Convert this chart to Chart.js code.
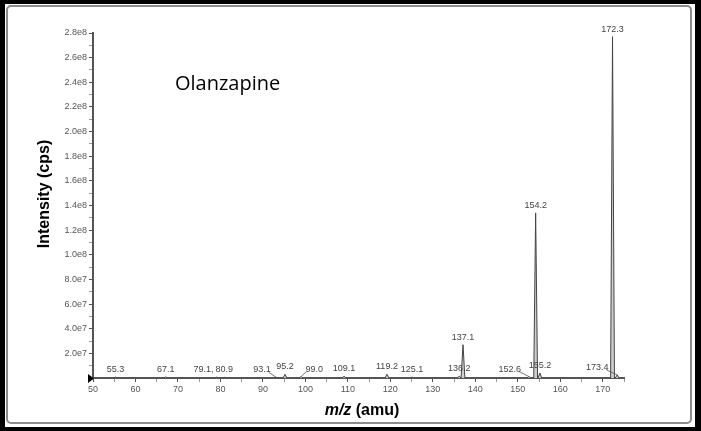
<!DOCTYPE html>
<html>
<head>
<meta charset="utf-8">
<script src="https://cdn.jsdelivr.net/npm/chart.js@4/dist/chart.umd.min.js"></script>
<style>
  html, body { margin: 0; padding: 0; background: #000; }
  #papel { position: absolute; left: 5px; top: 4px; width: 690px; height: 423px; background: #fff; }
  #borda { position: absolute; left: 6px; top: 5px; width: 686px; height: 419px; border: 2px solid #8c8c8c; border-radius: 5px; box-sizing: border-box; }
  #grafico { position: absolute; left: 0; top: 0; }
</style>
</head>
<body>
<div id="papel"></div>
<div id="borda"></div>
<canvas id="grafico" width="701" height="431"></canvas>
<script>
// espectro de massas - olanzapina
const picosMz = [55.3, 67.1, 79.1, 80.9, 93.1, 95.2, 99.0, 109.1, 119.2, 125.1, 136.2, 137.1, 152.6, 154.2, 155.2, 172.3, 173.4];
const picosIntensidade = [8e5, 9e5, 7e5, 6e5, 6e5, 3e6, 1.2e6, 1.5e6, 3e6, 8e5, 1.5e6, 2.7e7, 1.2e6, 1.34e8, 4e6, 2.77e8, 2.5e6];
const rotulosPicos = ['55.3', '67.1', '79.1,', '80.9', '93.1', '95.2', '99.0', '109.1', '119.2', '125.1', '136.2', '137.1', '152.6', '154.2', '155.2', '172.3', '173.4'];
const rotulosEixoX = ['50', '60', '70', '80', '90', '100', '110', '120', '130', '140', '150', '160', '170'];
const rotulosEixoY = ['2.0e7', '4.0e7', '6.0e7', '8.0e7', '1.0e8', '1.2e8', '1.4e8', '1.6e8', '1.8e8', '2.0e8', '2.2e8', '2.4e8', '2.6e8', '2.8e8'];
const nomeComposto = 'Olanzapine';

// deslocamento dos rotulos que o software afasta do pico (px)
const ajusteRotulo = { '79.1,': -13, '93.1': -14, '99.0': 13, '152.6': -19, '173.4': -20 };
const comLinha = ['93.1', '99.0', '152.6', '173.4'];
const meiaLargura = 0.45;

const datasets = picosMz.map((mz, i) => ({
    data: [
        { x: mz - meiaLargura, y: 0 },
        { x: mz, y: picosIntensidade[i] },
        { x: mz + meiaLargura, y: 0 }
    ],
    borderColor: '#444',
    borderWidth: 1,
    backgroundColor: '#cfcfcf',
    fill: 'origin',
    pointRadius: 0,
    tension: 0
}));

const desenhos = {
    id: 'desenhos',
    afterDraw(chart) {
        const ctx = chart.ctx;
        const area = chart.chartArea;
        const sx = chart.scales.x;
        const sy = chart.scales.y;
        ctx.save();

        // rotulos dos picos
        ctx.font = '9px "Liberation Sans", Arial, sans-serif';
        ctx.fillStyle = '#444';
        ctx.strokeStyle = '#555';
        ctx.lineWidth = 0.8;
        ctx.textAlign = 'center';
        ctx.textBaseline = 'alphabetic';
        picosMz.forEach((mz, i) => {
            const rot = rotulosPicos[i];
            const px = sx.getPixelForValue(mz);
            const py = sy.getPixelForValue(picosIntensidade[i]);
            const dx = ajusteRotulo[rot] || 0;
            ctx.fillText(rot, px + dx, py - 5);
            if (comLinha.includes(rot)) {
                const w = ctx.measureText(rot).width / 2;
                ctx.beginPath();
                if (dx < 0) {
                    ctx.moveTo(px + dx + w - 2, py - 5);
                } else {
                    ctx.moveTo(px + dx - w + 1, py - 5);
                }
                ctx.lineTo(px, py);
                ctx.stroke();
            }
        });

        // marcador na origem
        ctx.fillStyle = '#000';
        ctx.beginPath();
        ctx.moveTo(area.left - 5, area.bottom - 4);
        ctx.lineTo(area.left - 5, area.bottom + 5);
        ctx.lineTo(area.left + 1, area.bottom + 0.5);
        ctx.closePath();
        ctx.fill();

        // nome do composto
        ctx.fillStyle = '#000';
        ctx.font = '20px "Open Sans", sans-serif';
        ctx.textAlign = 'left';
        ctx.fillText(nomeComposto, 175, 90);

        // titulo eixo y
        ctx.font = 'bold 16px "Liberation Sans", Arial, sans-serif';
        ctx.textAlign = 'center';
        ctx.textBaseline = 'middle';
        ctx.translate(45, 194);
        ctx.rotate(-Math.PI / 2);
        ctx.fillText('Intensity (cps)', 0, 0);
        ctx.setTransform(1, 0, 0, 1, 0, 0);

        // titulo eixo x: m/z italico
        const parte1 = 'm/z';
        const parte2 = ' (amu)';
        ctx.font = 'italic bold 16px "Liberation Sans", Arial, sans-serif';
        const w1 = ctx.measureText(parte1).width;
        ctx.font = 'bold 16px "Liberation Sans", Arial, sans-serif';
        const w2 = ctx.measureText(parte2).width;
        const inicio = 362 - (w1 + w2) / 2;
        ctx.textAlign = 'left';
        ctx.font = 'italic bold 16px "Liberation Sans", Arial, sans-serif';
        ctx.fillText(parte1, inicio, 411);
        ctx.font = 'bold 16px "Liberation Sans", Arial, sans-serif';
        ctx.fillText(parte2, inicio + w1, 411);

        ctx.restore();
    }
};

new Chart(document.getElementById('grafico'), {
    type: 'line',
    data: { datasets: datasets },
    options: {
        responsive: false,
        animation: false,
        layout: { padding: { top: 33, right: 77, bottom: 33, left: 0 } },
        plugins: { legend: { display: false }, tooltip: { enabled: false } },
        scales: {
            x: {
                type: 'linear',
                min: 50,
                max: 175,
                afterFit: (s) => { s.height = 20; },
                border: { display: true, color: '#555', width: 2 },
                grid: {
                    drawOnChartArea: false,
                    tickLength: 4,
                    tickColor: (c) => (c.tick && c.tick.value % 10 === 0) ? '#555' : '#999'
                },
                ticks: {
                    stepSize: 5,
                    autoSkip: false,
                    maxRotation: 0,
                    padding: 2,
                    color: '#555',
                    font: { family: '"Liberation Sans", Arial, sans-serif', size: 9 },
                    callback: (v) => (v % 10 === 0) ? rotulosEixoX[Math.round((v - 50) / 10)] : ''
                }
            },
            y: {
                min: 0,
                max: 2.8e8,
                afterFit: (s) => { s.width = 93; },
                border: { display: true, color: '#555', width: 2 },
                grid: {
                    drawOnChartArea: false,
                    tickLength: 4,
                    tickColor: (c) => (c.tick && Math.round(c.tick.value / 1e7) % 2 === 0) ? '#555' : '#999'
                },
                ticks: {
                    stepSize: 1e7,
                    autoSkip: false,
                    padding: 2,
                    color: '#555',
                    font: { family: '"Liberation Sans", Arial, sans-serif', size: 9 },
                    callback: (v) => {
                        const k = Math.round(v / 1e7);
                        return (k > 0 && k % 2 === 0) ? rotulosEixoY[k / 2 - 1] : '';
                    }
                }
            }
        }
    },
    plugins: [desenhos]
});
</script>
</body>
</html>
